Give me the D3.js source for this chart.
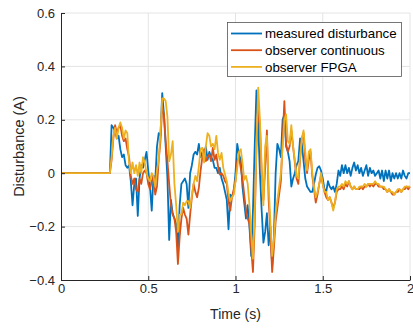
<!DOCTYPE html>
<html>
<head>
<meta charset="utf-8">
<script src="https://cdn.jsdelivr.net/npm/d3@7"></script>
<style>
  html, body { margin: 0; padding: 0; background: #fff; }
  svg { display: block; font-family: "Liberation Sans", Arial, sans-serif; }
</style>
</head>
<body>
<svg id="chart" width="413" height="329"></svg>
<script>
// samples: t = 0, then 0.28 .. 2.00 s every 10 ms
const sampleStart = 0.28;
const sampleStep = 0.01;

const measured = [0,
  0.00, 0.18,
  0.17, 0.16, 0.13, 0.14, 0.09, 0.06, 0.07, 0.03, 0.02, 0.03,
  -0.03, -0.12, -0.04, -0.02, -0.16, -0.02, 0.03, 0.02, 0.05, 0.08,
  0.01, -0.05, -0.14, -0.01, -0.03, 0.10, 0.15, 0.14, 0.30, 0.22,
  0.10, -0.02, -0.25, -0.10, -0.15, -0.17, -0.19, -0.28, -0.12, -0.04,
  -0.03, -0.02, -0.04, -0.13, 0.00, 0.03, 0.07, 0.08, 0.07, 0.11,
  0.06, 0.08, 0.06, 0.10, 0.05, 0.08, 0.06, 0.05, 0.02, 0.02,
  0.00, 0.02, -0.02, -0.04, -0.07, -0.10, -0.21, -0.08, -0.09, -0.07,
  0.00, 0.11, 0.07, 0.05, -0.05, -0.11, -0.17, -0.12, -0.20, -0.31,
  -0.14, 0.10, 0.31, 0.18, 0.00, -0.14, -0.26, -0.22, -0.15, -0.27,
  -0.20, -0.35, -0.24, 0.00, 0.11, 0.09, 0.06, 0.20, 0.22, 0.10,
  0.08, 0.045, -0.05, -0.02, 0.00, 0.03, 0.045, 0.13, 0.11, 0.045,
  -0.02, -0.05, -0.06, -0.07, -0.07, -0.04, -0.005, 0.02, 0.026, 0.01,
  -0.02, -0.06, -0.07, -0.03, -0.05, -0.06, -0.05, -0.07, -0.04, 0.01,
  -0.01, 0.03, 0.00, 0.03, 0.00, 0.02, -0.01, 0.02, 0.04, 0.01,
  0.03, 0.00, 0.02, -0.01, 0.01, 0.03, -0.01, 0.02, 0.00, 0.01,
  -0.01, 0.00, 0.01, -0.02, 0.01, -0.03, 0.01, -0.02, 0.01, -0.03,
  0.00, -0.02, 0.00, -0.02, 0.00, -0.02, 0.01, -0.01, -0.02, 0.00,
  0.00
];

const continuous = [0,
  0.00, 0.05,
  0.13, 0.18, 0.15, 0.17, 0.18, 0.14, 0.12, 0.13, 0.09, 0.06,
  -0.01, -0.04, -0.02, -0.06, -0.07, -0.02, -0.04, 0.00, 0.01, 0.00,
  -0.04, -0.06, -0.03, -0.01, -0.08, -0.05, 0.05, 0.12, 0.25, 0.22,
  0.12, 0.045, -0.04, -0.12, -0.155, -0.17, -0.22, -0.34, -0.24, -0.17,
  -0.13, -0.155, -0.17, -0.23, -0.155, -0.09, -0.04, -0.07, -0.09, -0.055,
  0.01, 0.06, 0.09, 0.045, 0.06, 0.07, 0.045, 0.095, 0.05, 0.07,
  0.026, -0.005, 0.00, -0.01, -0.03, -0.04, -0.105, -0.14, -0.09, -0.06,
  -0.03, 0.045, 0.06, 0.02, -0.02, -0.08, -0.14, -0.17, -0.19, -0.28,
  -0.37, -0.19, 0.095, 0.245, 0.18, 0.00, -0.10, 0.02, 0.16, -0.10,
  -0.22, -0.37, -0.28, -0.18, -0.13, -0.08, -0.03, 0.12, 0.27, 0.11,
  0.08, 0.10, 0.16, 0.10, 0.04, -0.02, -0.04, 0.05, 0.13, 0.15,
  0.05, 0.00, 0.05, 0.08, -0.01, -0.06, -0.11, -0.08, -0.04, -0.01,
  -0.04, -0.07, -0.09, -0.10, -0.09, -0.11, -0.13, -0.11, -0.07, -0.06,
  -0.06, -0.05, -0.06, -0.04, -0.05, -0.03, -0.05, -0.06, -0.05, -0.06,
  -0.06, -0.06, -0.05, -0.06, -0.05, -0.05, -0.04, -0.05, -0.04, -0.05,
  -0.04, -0.04, -0.05, -0.05, -0.05, -0.06, -0.06, -0.07, -0.06, -0.07,
  -0.08, -0.08, -0.07, -0.07, -0.06, -0.07, -0.06, -0.06, -0.05, -0.06,
  -0.05
];

const fpga = [0,
  0.00, 0.06,
  0.14, 0.17, 0.13, 0.17, 0.19, 0.17, 0.13, 0.16, 0.15, 0.04,
  0.00, 0.04, 0.00, 0.03, -0.01, 0.04, 0.00, 0.06, 0.04, 0.00,
  -0.02, -0.03, 0.00, -0.01, -0.05, 0.01, 0.05, 0.15, 0.28, 0.28,
  0.27, 0.21, 0.045, 0.07, 0.12, -0.04, -0.12, -0.22, -0.155, -0.155,
  -0.11, -0.12, -0.105, -0.105, -0.13, -0.08, -0.04, -0.01, -0.03, 0.026,
  0.09, 0.095, 0.04, 0.10, 0.15, 0.14, 0.10, 0.11, 0.09, 0.14,
  0.076, 0.05, 0.076, 0.02, -0.005, -0.03, -0.074, -0.105, -0.09, -0.08,
  -0.03, 0.02, 0.08, 0.09, 0.04, -0.025, -0.01, -0.04, -0.12, -0.23,
  -0.32, -0.155, 0.11, 0.32, 0.20, 0.02, -0.12, 0.10, 0.14, -0.05,
  -0.18, -0.31, -0.25, -0.15, -0.10, -0.05, 0.00, 0.10, 0.20, 0.22,
  0.12, 0.11, 0.18, 0.10, 0.05, -0.01, -0.02, 0.06, 0.13, 0.16,
  0.08, 0.01, 0.08, 0.09, 0.00, -0.05, -0.09, -0.07, -0.04, 0.00,
  -0.04, -0.07, -0.07, -0.10, -0.09, -0.11, -0.14, -0.11, -0.06, -0.05,
  -0.05, -0.04, -0.05, -0.03, -0.04, -0.03, -0.05, -0.06, -0.05, -0.06,
  -0.06, -0.05, -0.05, -0.05, -0.04, -0.05, -0.04, -0.04, -0.04, -0.04,
  -0.03, -0.04, -0.04, -0.05, -0.05, -0.05, -0.06, -0.07, -0.06, -0.07,
  -0.07, -0.08, -0.07, -0.06, -0.06, -0.07, -0.06, -0.05, -0.05, -0.05,
  -0.05
];

const seriesNames = ["measured disturbance", "observer continuous", "observer FPGA"];
const seriesColors = ["#0072BD", "#D95319", "#EDB120"];
const xTicks = [0, 0.5, 1, 1.5, 2];
const yTicks = [-0.4, -0.2, 0, 0.2, 0.4, 0.6];

const timeAt = i => i === 0 ? 0 : sampleStart + (i - 1) * sampleStep;

const svg = d3.select("#chart");
const margin = { top: 13, right: 3, bottom: 49, left: 61 };
const width = 413 - margin.left - margin.right;
const height = 329 - margin.top - margin.bottom;

const g = svg.append("g").attr("transform", `translate(${margin.left},${margin.top})`);

const x = d3.scaleLinear().domain([0, 2]).range([0, width]);
const y = d3.scaleLinear().domain([-0.4, 0.6]).range([height, 0]);

// grid
g.selectAll(".grid-x")
    .data(xTicks.slice(1))
    .join("line")
    .attr("x1", d => x(d)).attr("x2", d => x(d))
    .attr("y1", 0).attr("y2", height)
    .attr("stroke", "#e4e4e4").attr("stroke-width", 1);
g.selectAll(".grid-y")
    .data(yTicks.slice(1))
    .join("line")
    .attr("x1", 0).attr("x2", width)
    .attr("y1", d => y(d)).attr("y2", d => y(d))
    .attr("stroke", "#e4e4e4").attr("stroke-width", 1);

// data lines
const allSeries = [measured, continuous, fpga];
const line = d3.line()
    .x((d, i) => x(timeAt(i)))
    .y(d => y(d));

g.selectAll(".series")
    .data(allSeries)
    .join("path")
    .attr("fill", "none")
    .attr("stroke", (_, i) => seriesColors[i])
    .attr("stroke-width", 1.8)
    .attr("stroke-linejoin", "round")
    .attr("d", d => line(d));

// axes
const axisColor = "#262626";
const xAxis = g.append("g")
    .attr("transform", `translate(0,${height})`)
    .call(d3.axisBottom(x).tickValues(xTicks).tickFormat(d3.format("")).tickSizeInner(-4).tickSizeOuter(0).tickPadding(4));
const yAxis = g.append("g")
    .call(d3.axisLeft(y).tickValues(yTicks).tickFormat(d => d === 0 ? "0" : d3.format(".1f")(d)).tickSizeInner(-4).tickSizeOuter(0).tickPadding(6));

[xAxis, yAxis].forEach(a => {
    a.select(".domain").attr("stroke", axisColor);
    a.selectAll(".tick line").attr("stroke", axisColor);
    a.selectAll(".tick text")
        .attr("fill", axisColor)
        .attr("font-size", 13)
        .attr("font-family", "Liberation Sans, Arial, sans-serif");
});

// axis titles
svg.append("text")
    .attr("x", margin.left + width / 2)
    .attr("y", 319)
    .attr("text-anchor", "middle")
    .attr("font-size", 14)
    .attr("fill", axisColor)
    .text("Time (s)");

svg.append("text")
    .attr("transform", `translate(24,${margin.top + height / 2}) rotate(-90)`)
    .attr("text-anchor", "middle")
    .attr("font-size", 14.5)
    .attr("fill", axisColor)
    .text("Disturbance (A)");

// legend
const legend = svg.append("g").attr("transform", "translate(227,22)");
legend.append("rect")
    .attr("x", 0.5).attr("y", 0.5)
    .attr("width", 174).attr("height", 54)
    .attr("fill", "#fff")
    .attr("stroke", "#555").attr("stroke-width", 0.8);

const entries = legend.selectAll(".entry")
    .data(seriesNames)
    .join("g")
    .attr("transform", (_, i) => `translate(0,${11.5 + i * 16.7})`);
entries.append("line")
    .attr("x1", 4).attr("x2", 35)
    .attr("stroke", (_, i) => seriesColors[i])
    .attr("stroke-width", 1.8);
entries.append("text")
    .attr("x", 38)
    .attr("dy", "0.35em")
    .attr("font-size", 13.3)
    .attr("fill", "#000")
    .text(d => d);
</script>
</body>
</html>
